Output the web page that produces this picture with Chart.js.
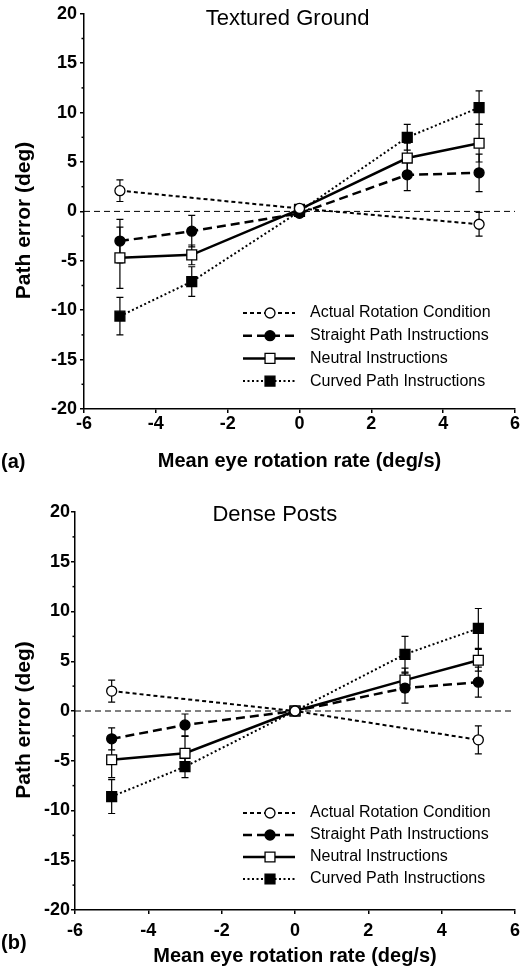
<!DOCTYPE html>
<html>
<head>
<meta charset="utf-8">
<script src="https://cdn.jsdelivr.net/npm/chart.js"></script>
<style>
  body { margin: 0; background: #fff; }
  canvas { position: absolute; left: 0; }
  #chartA { top: 0; }
  #chartB { top: 480px; }
</style>
</head>
<body>
<canvas id="chartA" width="531" height="480"></canvas>
<canvas id="chartB" width="531" height="486"></canvas>
<script>
// eye rotation rates (deg/s)
const xRate = [-5, -3, 0, 3, 5];
const xActual = [-5, 0, 5];
const seriesNames = ['Actual Rotation Condition', 'Straight Path Instructions', 'Neutral Instructions', 'Curved Path Instructions'];

// (a) Textured Ground
const tgActual = [2.1, 0.3, -1.3];
const tgActualErr = [1.1, 0, 1.2];
const tgStraight = [-3.0, -2.0, -0.2, 3.7, 3.9];
const tgStraightErr = [2.2, 1.6, 0, 1.6, 1.9];
const tgNeutral = [-4.7, -4.4, 0.2, 5.4, 6.9];
const tgNeutralErr = [3.1, 1.0, 0, 1.5, 1.9];
const tgCurved = [-10.6, -7.1, 0.0, 7.5, 10.5];
const tgCurvedErr = [1.9, 1.5, 0, 1.3, 1.7];

// (b) Dense Posts
const dpActual = [2.0, 0.0, -2.9];
const dpActualErr = [1.1, 0, 1.4];
const dpStraight = [-2.8, -1.4, 0.0, 2.3, 2.9];
const dpStraightErr = [1.1, 1.1, 0, 1.5, 1.5];
const dpNeutral = [-4.9, -4.25, 0.0, 3.1, 5.1];
const dpNeutralErr = [1.8, 1.7, 0, 1.2, 1.1];
const dpCurved = [-8.6, -5.6, 0.0, 5.7, 8.3];
const dpCurvedErr = [1.7, 1.1, 0, 1.8, 2.0];

const FONT = "'Liberation Sans', Arial, Helvetica, sans-serif";

function pts(xs, ys) {
  return xs.map((x, i) => ({x: x, y: ys[i]}));
}

function makeDatasets(act, actErr, str, strErr, neu, neuErr, cur, curErr) {
  return [
    {label: seriesNames[0], data: pts(xActual, act), errors: actErr,
     borderColor: '#000', borderWidth: 2, borderDash: [4, 3],
     pointStyle: 'circle', pointRadius: 5, pointBackgroundColor: '#fff', pointBorderColor: '#000', pointBorderWidth: 1.3},
    {label: seriesNames[1], data: pts(xRate, str), errors: strErr,
     borderColor: '#000', borderWidth: 2.5, borderDash: [9, 5],
     pointStyle: 'circle', pointRadius: 5, pointBackgroundColor: '#000', pointBorderColor: '#000', pointBorderWidth: 1.3},
    {label: seriesNames[2], data: pts(xRate, neu), errors: neuErr,
     borderColor: '#000', borderWidth: 2.5, borderDash: [],
     pointStyle: 'rect', pointRadius: 7, pointBackgroundColor: '#fff', pointBorderColor: '#000', pointBorderWidth: 1.3},
    {label: seriesNames[3], data: pts(xRate, cur), errors: curErr,
     borderColor: '#000', borderWidth: 2, borderDash: [2, 2.5],
     pointStyle: 'rect', pointRadius: 7, pointBackgroundColor: '#000', pointBorderColor: '#000', pointBorderWidth: 1.3}
  ];
}

// zero line, minor y ticks + error bars under the markers
const underlay = {
  id: 'underlay',
  beforeDatasetsDraw(chart) {
    const {ctx, chartArea, scales: {x, y}} = chart;
    ctx.save();
    ctx.strokeStyle = '#000';
    ctx.lineWidth = 1;
    ctx.setLineDash([6, 4]);
    const y0 = y.getPixelForValue(0);
    ctx.beginPath();
    ctx.moveTo(chartArea.left, y0);
    ctx.lineTo(chartArea.right, y0);
    ctx.stroke();
    ctx.setLineDash([]);

    ctx.lineWidth = 1.5;
    y.ticks.forEach(t => {
      if (t.value % 5 === 0) return;
      const py = y.getPixelForValue(t.value);
      ctx.beginPath();
      ctx.moveTo(chartArea.left - 2.5, py);
      ctx.lineTo(chartArea.left, py);
      ctx.stroke();
    });

    ctx.lineWidth = 1.2;
    chart.data.datasets.forEach(ds => {
      ds.data.forEach((p, i) => {
        const e = ds.errors[i];
        if (!e) return;
        const px = x.getPixelForValue(p.x);
        const y1 = y.getPixelForValue(p.y + e);
        const y2 = y.getPixelForValue(p.y - e);
        ctx.beginPath();
        ctx.moveTo(px, y1); ctx.lineTo(px, y2);
        ctx.moveTo(px - 3.5, y1); ctx.lineTo(px + 3.5, y1);
        ctx.moveTo(px - 3.5, y2); ctx.lineTo(px + 3.5, y2);
        ctx.stroke();
      });
    });
    ctx.restore();
  }
};

// panel title, y title, panel letter and line+marker legend
const overlay = {
  id: 'overlay',
  afterDraw(chart, args, opts) {
    const {ctx, chartArea, scales: {x}} = chart;
    ctx.save();
    ctx.fillStyle = '#000';
    ctx.textBaseline = 'middle';
    ctx.textAlign = 'center';
    ctx.font = '22px ' + FONT;
    ctx.fillText(opts.title, x.getPixelForValue(opts.titleX), chartArea.top + opts.titleDy);

    ctx.font = 'bold 21px ' + FONT;
    ctx.save();
    ctx.translate(24, (chartArea.top + chartArea.bottom) / 2 + 9);
    ctx.rotate(-Math.PI / 2);
    ctx.fillText('Path error (deg)', 0, 0);
    ctx.restore();

    ctx.textAlign = 'left';
    ctx.font = 'bold 20px ' + FONT;
    ctx.fillText(opts.letter, 1, opts.letterY);

    ctx.font = '16px ' + FONT;
    chart.data.datasets.forEach((ds, i) => {
      const ry = chartArea.bottom - opts.legendBottom + i * opts.legendGap;
      const x1 = chartArea.right - 272, x2 = chartArea.right - 220, xm = chartArea.right - 245;
      ctx.strokeStyle = '#000';
      ctx.lineWidth = ds.borderWidth;
      ctx.setLineDash(ds.borderDash);
      ctx.beginPath();
      ctx.moveTo(x1, ry); ctx.lineTo(x2, ry);
      ctx.stroke();
      ctx.setLineDash([]);
      ctx.lineWidth = ds.pointBorderWidth;
      ctx.fillStyle = ds.pointBackgroundColor;
      ctx.beginPath();
      if (ds.pointStyle === 'circle') {
        ctx.arc(xm, ry, ds.pointRadius, 0, Math.PI * 2);
      } else {
        const h = ds.pointRadius * Math.SQRT1_2;
        ctx.rect(xm - h, ry - h, 2 * h, 2 * h);
      }
      ctx.fill();
      ctx.stroke();
      ctx.fillStyle = '#000';
      ctx.fillText(ds.label, chartArea.right - 205, ry);
    });
    ctx.restore();
  }
};

function makeChart(el, datasets, cfg) {
  return new Chart(el, {
    type: 'line',
    data: {datasets: datasets},
    plugins: [underlay, overlay],
    options: {
      responsive: false,
      animation: false,
      layout: {padding: {top: cfg.padTop, right: 16, left: 0, bottom: 0}},
      plugins: {
        legend: {display: false},
        tooltip: {enabled: false},
        overlay: cfg.overlay
      },
      scales: {
        x: {
          type: 'linear', min: -6, max: 6,
          afterFit: s => { s.height = cfg.xHeight; },
          ticks: {stepSize: 2, color: '#000', padding: cfg.xTickPad, font: {family: FONT, size: 18, weight: 'bold'}},
          grid: {drawOnChartArea: false, color: '#000', tickLength: 4, lineWidth: 1.5},
          border: {color: '#000', width: 1.5},
          title: {display: true, text: 'Mean eye rotation rate (deg/s)', color: '#000',
                  font: {family: FONT, size: 20, weight: 'bold', lineHeight: 1}, padding: {top: 0, bottom: cfg.xTitlePad}}
        },
        y: {
          min: -20, max: 20,
          afterFit: s => { s.width = cfg.yWidth; },
          ticks: {stepSize: 2.5, autoSkip: false, color: '#000', padding: cfg.yTickPad,
                  font: {family: FONT, size: 18, weight: 'bold'},
                  callback: v => (v % 5 === 0 ? v : '')},
          grid: {drawOnChartArea: false, tickLength: 4, lineWidth: 1.5,
                 tickColor: c => (c.tick && c.tick.value % 5 === 0 ? '#000' : 'rgba(0,0,0,0)')},
          border: {color: '#000', width: 1.5}
        }
      }
    }
  });
}

makeChart(document.getElementById('chartA'),
  makeDatasets(tgActual, tgActualErr, tgStraight, tgStraightErr, tgNeutral, tgNeutralErr, tgCurved, tgCurvedErr),
  {padTop: 13, xHeight: 71, xTickPad: 0, xTitlePad: 9, yWidth: 84, yTickPad: 3,
   overlay: {title: 'Textured Ground', titleX: -0.33, titleDy: 5, letter: '(a)', letterY: 462,
             legendBottom: 96, legendGap: 22.7}});

makeChart(document.getElementById('chartB'),
  makeDatasets(dpActual, dpActualErr, dpStraight, dpStraightErr, dpNeutral, dpNeutralErr, dpCurved, dpCurvedErr),
  {padTop: 32, xHeight: 56, xTickPad: 6, xTitlePad: 0, yWidth: 75, yTickPad: 1,
   overlay: {title: 'Dense Posts', titleX: -0.55, titleDy: 3, letter: '(b)', letterY: 463,
             legendBottom: 97, legendGap: 22}});
</script>
</body>
</html>
